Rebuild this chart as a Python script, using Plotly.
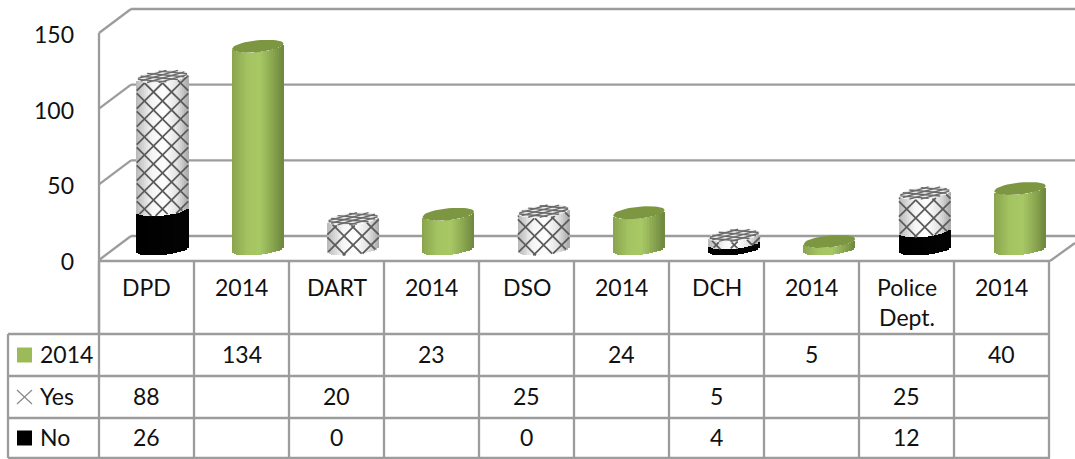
import math
import plotly.graph_objects as go

# ---- data -----
categories = ["DPD", "2014", "DART", "2014", "DSO", "2014", "DCH", "2014", "Police<br>Dept.", "2014"]
values_2014 = [None, 134, None, 23, None, 24, None, 5, None, 40]
values_yes = [88, None, 20, None, 25, None, 5, None, 25, None]
values_no = [26, None, 0, None, 0, None, 4, None, 12, None]
y_ticks = [0, 50, 100, 150]

W, H = 1075, 459
FONT = "Lato"
TEXT = "#111111"
GRID = "#9c9c9c"


def px(x):
    return x / W


def py(y):
    return 1 - y / H


# geometry of the pseudo 3D frame (pixels)
FRONT_X, BACK_X = 99, 131
FRONT_0, FRONT_150 = 260, 33
LABEL_SHIFT = 2
DEPTH = 24
SCALE = (FRONT_0 - FRONT_150) / 150  # px per unit
BAR_ZERO_PX = 249
X0, DX = 162.5, 95.28
HALF_W = 0.27  # half cylinder width, category units
HALF_W_PX = HALF_W * DX
B = 6 / SCALE  # ellipse half height, value units
TILT = 2.5 / SCALE
N = 26

x_range = [(FRONT_X - X0) / DX, (W - X0) / DX]
y2_low = -(FRONT_0 + LABEL_SHIFT - BAR_ZERO_PX) / SCALE
y2_range = [y2_low, y2_low + 150]


def curve(u):
    return -B * math.sqrt(max(0, 1 - u * u)) + TILT * u


def lerp(c1, c2, t):
    return tuple(c1[k] + (c2[k] - c1[k]) * t for k in range(3))


def ramp(u, stops):
    t = (u + 1) / 2
    for (t0, c0), (t1, c1) in zip(stops, stops[1:]):
        if t <= t1:
            r = lerp(c0, c1, (t - t0) / (t1 - t0))
            return "rgb(%d,%d,%d)" % r
    return "rgb(%d,%d,%d)" % stops[-1][1]


GREEN_STOPS = [(0, (138, 165, 78)), (0.3, (164, 196, 98)), (0.55, (168, 201, 102)), (0.8, (138, 167, 80)), (1, (110, 135, 62))]
WHITE_STOPS = [(0, (185, 185, 185)), (0.3, (245, 245, 245)), (0.55, (255, 255, 255)), (0.8, (225, 225, 225)), (1, (170, 170, 170))]
BLACK_STOPS = [(0, (0, 0, 0)), (1, (4, 4, 4))]

us = [-1 + (2 * j + 1) / N for j in range(N)]


def strips(segments, stops):
    xs, ys, bases, cols = [], [], [], []
    for i, bottom, height in segments:
        for u in us:
            xs.append(i + u * HALF_W)
            ys.append(height)
            bases.append(bottom + curve(u))
            cols.append(ramp(u, stops))
    return go.Bar(x=xs, y=ys, base=bases, width=[HALF_W * 2 / N * 1.3] * len(xs),
                  marker=dict(color=cols, line=dict(width=0)), yaxis="y2",
                  hoverinfo="skip", showlegend=False)


def cap_points(i, top):
    xs, ys = [], []
    for k in range(49):
        t = 2 * math.pi * k / 48
        u, w = math.cos(t), math.sin(t)
        xs.append(i + HALF_W * u)
        ys.append(top + B * w + TILT * u)
    return xs, ys


def filled(polys, color):
    xs, ys = [], []
    for px_, py_ in polys:
        xs += px_ + [None]
        ys += py_ + [None]
    return go.Scatter(x=xs, y=ys, yaxis="y2", mode="lines", fill="toself", fillcolor=color,
                      line=dict(width=0, color=color), hoverinfo="skip", showlegend=False)


green_seg = [(i, 0, v) for i, v in enumerate(values_2014) if v is not None]
yes_seg = [(i, (values_no[i] or 0), v) for i, v in enumerate(values_yes) if v is not None]
no_seg = [(i, 0, v) for i, v in enumerate(values_no) if v]

# hatch lines on the surface of the "Yes" cylinders
STEP_PX = 18.0
hx, hy = [], []
for i, bottom, height in yes_seg:
    top = bottom + height
    low_v = bottom - B - TILT
    high_v = top + B + TILT
    c0 = math.floor((low_v - 30) * SCALE / STEP_PX)
    c1 = math.ceil((high_v + 30) * SCALE / STEP_PX)
    for c in range(c0, c1 + 1):
        for sign in (1, -1):
            prev = False
            for j in range(61):
                u = -1 + 2 * j / 60
                y_val = (c * STEP_PX + 4 + sign * u * HALF_W_PX) / SCALE
                ok = bottom + curve(u) <= y_val <= top + curve(u)
                if ok:
                    hx.append(i + u * HALF_W)
                    hy.append(y_val)
                elif prev:
                    hx.append(None)
                    hy.append(None)
                prev = ok
            if prev:
                hx.append(None)
                hy.append(None)

# hatch on the caps
cx, cy = [], []
for i, bottom, height in yes_seg:
    top = bottom + height
    for k in (-1.05, -0.35, 0.35, 1.05):
        for sign in (1, -1):
            prev = False
            for j in range(41):
                u = -1 + 2 * j / 40
                w = (k - sign * u) * 0.8
                ok = u * u + w * w <= 1
                if ok:
                    cx.append(i + HALF_W * u)
                    cy.append(top + B * w + TILT * u)
                elif prev:
                    cx.append(None)
                    cy.append(None)
                prev = ok
            if prev:
                cx.append(None)
                cy.append(None)

traces = [
    go.Scatter(x=[0], y=[0], mode="markers", marker=dict(opacity=0), hoverinfo="skip", showlegend=False),
    strips(green_seg, GREEN_STOPS),
    strips(yes_seg, WHITE_STOPS),
    strips(no_seg, BLACK_STOPS),
    go.Scatter(x=hx, y=hy, yaxis="y2", mode="lines", line=dict(color="#5c5c5c", width=1.8),
               hoverinfo="skip", showlegend=False, connectgaps=False),
    filled([cap_points(i, b + h) for i, b, h in green_seg], "#7c9641"),
    filled([cap_points(i, b + h) for i, b, h in yes_seg], "#ececec"),
    go.Scatter(x=cx, y=cy, yaxis="y2", mode="lines", line=dict(color="#6a6a6a", width=1.4),
               hoverinfo="skip", showlegend=False, connectgaps=False),
]

shapes = []


def line(x0, y0, x1, y1, color=GRID, width=2.3):
    shapes.append(dict(type="line", xref="paper", yref="paper", x0=px(x0), y0=py(y0), x1=px(x1), y1=py(y1),
                       line=dict(color=color, width=width), layer="below"))


# walls
for t in y_ticks:
    yf = FRONT_0 - t * SCALE
    line(FRONT_X, yf, BACK_X, yf - DEPTH)
    line(BACK_X, yf - DEPTH, W, yf - DEPTH)
line(FRONT_X, FRONT_150, FRONT_X, 334)
line(1050, 261, 1075, 243)

# table
TABLE_COL0 = 99
COL_W = 95
ROWS = [334, 376, 418, 458]
TOP = 261
line(99, TOP, 1050, TOP)
for c in range(len(categories) + 1):
    line(TABLE_COL0 + c * COL_W, TOP, TABLE_COL0 + c * COL_W, ROWS[-1])
for r in ROWS:
    line(8, r, 1050, r)
line(8, ROWS[0], 8, ROWS[-1])

annotations = []


def text(x, y, s, anchor="center", valign="middle"):
    annotations.append(dict(x=px(x), y=py(y), xref="paper", yref="paper", text=s, showarrow=False,
                            xanchor=anchor, yanchor=valign, align="center",
                            font=dict(family=FONT, size=23, color=TEXT)))


for c, lab in enumerate(categories):
    text(TABLE_COL0 + (c + 0.5) * COL_W, 271, lab, valign="top")

row_labels = ["2014", "Yes", "No"]
row_values = [values_2014, values_yes, values_no]
row_mid = [354, 396, 437]
for name, vals, y in zip(row_labels, row_values, row_mid):
    text(38, y, name, anchor="left")
    for c, v in enumerate(vals):
        if v is not None:
            text(TABLE_COL0 + (c + 0.5) * COL_W, y, str(v))


def swatch(y, color):
    shapes.append(dict(type="rect", xref="paper", yref="paper", x0=px(17), x1=px(32), y0=py(y + 8.5), y1=py(y - 6.5),
                       fillcolor=color, line=dict(width=0), layer="above"))


swatch(row_mid[0], "#9bbb59")
swatch(row_mid[2], "#000000")
line(17, row_mid[1] - 6, 32, row_mid[1] + 8, "#8a8a8a", 1.2)
line(17, row_mid[1] + 8, 32, row_mid[1] - 6, "#8a8a8a", 1.2)

fig = go.Figure(traces)
fig.update_layout(
    template="none",
    width=W, height=H, margin=dict(l=0, r=0, t=0, b=0, pad=0), autosize=False,
    paper_bgcolor="white", plot_bgcolor="rgba(0,0,0,0)", barmode="overlay", bargap=0,
    showlegend=False, shapes=shapes, annotations=annotations,
    xaxis=dict(domain=[px(FRONT_X), 1], range=x_range, visible=False, fixedrange=True, automargin=False),
    yaxis=dict(domain=[py(FRONT_0 + LABEL_SHIFT), py(FRONT_150 + LABEL_SHIFT)], range=[0, 150], tickvals=y_ticks,
               automargin=False, showgrid=False, zeroline=False, showline=False, ticks="", ticklabelstandoff=24,
               tickfont=dict(family=FONT, size=23, color=TEXT), fixedrange=True),
    yaxis2=dict(overlaying="y", range=y2_range, visible=False, fixedrange=True, automargin=False),
)
fig.write_html("out.html", post_script="document.body.style.margin='0';", config={"displayModeBar": False})
